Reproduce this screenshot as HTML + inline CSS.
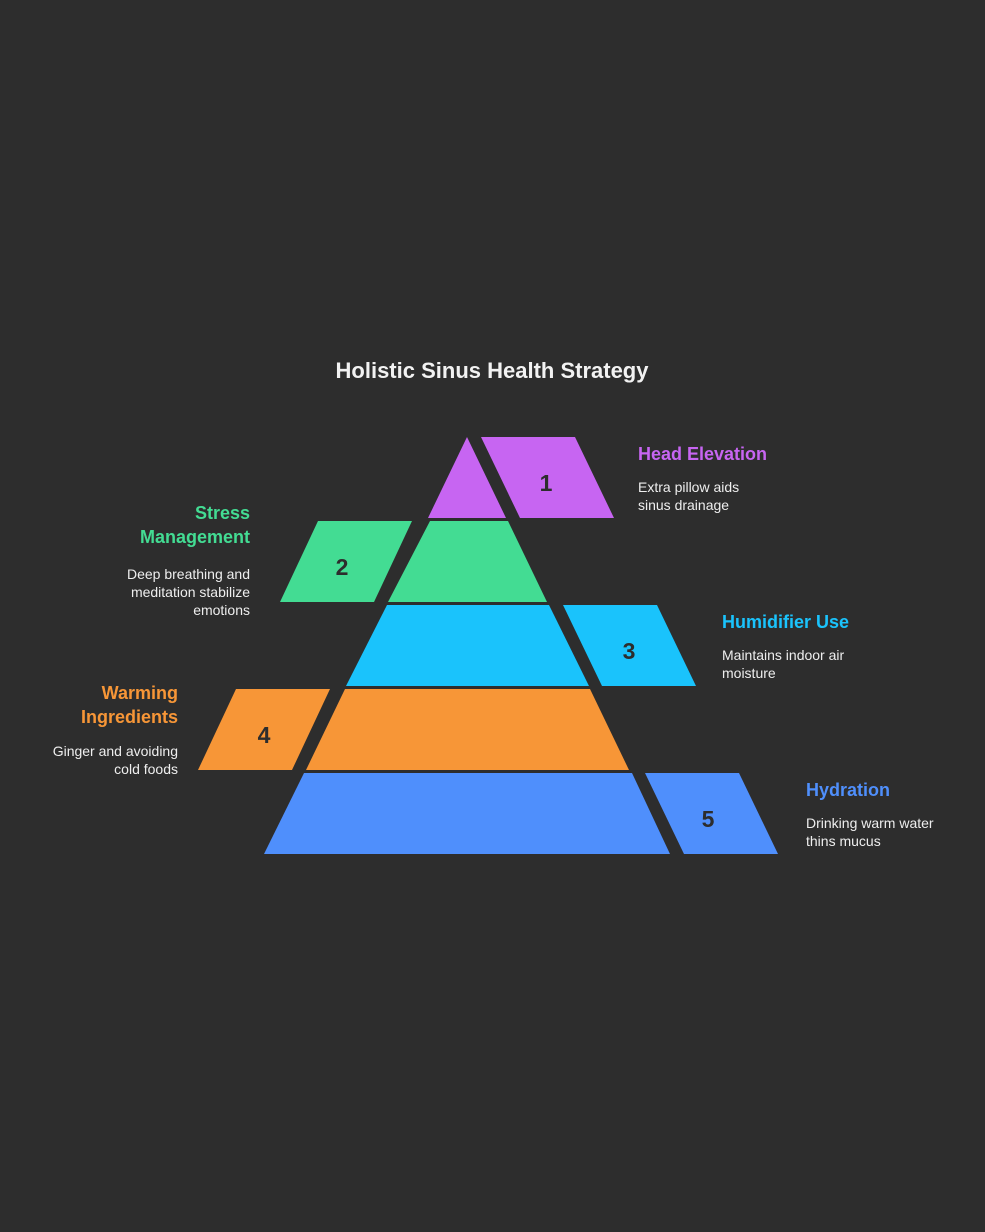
<!DOCTYPE html>
<html><head><meta charset="utf-8"><style>
html,body{margin:0;padding:0;background:#2d2d2d;}
svg{display:block;}
text{font-family:"Liberation Sans",Arial,sans-serif;}
</style></head><body>
<svg width="985" height="1232" viewBox="0 0 985 1232" xmlns="http://www.w3.org/2000/svg">
<rect width="985" height="1232" fill="#2d2d2d"/>
<text x="492" y="378" text-anchor="middle" font-size="22" font-weight="bold" fill="#f2f2f2">Holistic Sinus Health Strategy</text>
<!-- pyramid -->
<polygon points="467,437 506,518 428,518" fill="#c765f2"/>
<polygon points="430,521 508,521 547,602 388,602" fill="#43dc93"/>
<polygon points="387,605 549,605 589,686 346,686" fill="#1ac3fc"/>
<polygon points="345,689 590,689 629,770 306,770" fill="#f79637"/>
<polygon points="304,773 632,773 670,854 264,854" fill="#4f8ffc"/>
<!-- parallelograms -->
<polygon points="481,437 575,437 614,518 520,518" fill="#c765f2"/>
<polygon points="318,521 412,521 374,602 280,602" fill="#43dc93"/>
<polygon points="563,605 657,605 696,686 602,686" fill="#1ac3fc"/>
<polygon points="236,689 330,689 292,770 198,770" fill="#f79637"/>
<polygon points="645,773 739,773 778,854 684,854" fill="#4f8ffc"/>
<g font-size="23" font-weight="bold" fill="#2d2d2d" text-anchor="middle">
<text x="546" y="491">1</text>
<text x="342" y="575">2</text>
<text x="629" y="659">3</text>
<text x="264" y="743">4</text>
<text x="708" y="827">5</text>
</g>
<g font-size="18" font-weight="bold">
<text x="638" y="460" fill="#c765f2">Head Elevation</text>
<text x="250" y="519" fill="#43dc93" text-anchor="end">Stress</text>
<text x="250" y="543" fill="#43dc93" text-anchor="end">Management</text>
<text x="722" y="628" fill="#1ac3fc">Humidifier Use</text>
<text x="178" y="699" fill="#f79637" text-anchor="end">Warming</text>
<text x="178" y="723" fill="#f79637" text-anchor="end">Ingredients</text>
<text x="806" y="796" fill="#4f8ffc">Hydration</text>
</g>
<g font-size="14" fill="#eeeeee">
<text x="638" y="492">Extra pillow aids</text>
<text x="638" y="510">sinus drainage</text>
<text x="250" y="579" text-anchor="end">Deep breathing and</text>
<text x="250" y="597" text-anchor="end">meditation stabilize</text>
<text x="250" y="615" text-anchor="end">emotions</text>
<text x="722" y="660">Maintains indoor air</text>
<text x="722" y="678">moisture</text>
<text x="178" y="756" text-anchor="end">Ginger and avoiding</text>
<text x="178" y="774" text-anchor="end">cold foods</text>
<text x="806" y="828">Drinking warm water</text>
<text x="806" y="846">thins mucus</text>
</g>
</svg>
</body></html>
